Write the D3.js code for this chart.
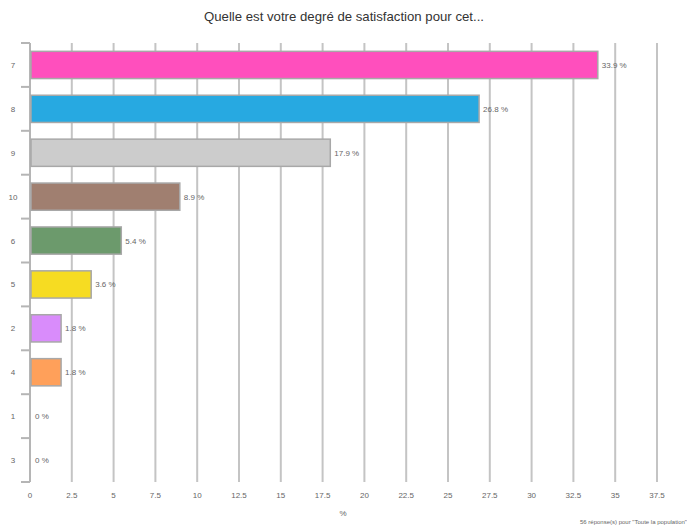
<!DOCTYPE html>
<html>
<head>
<meta charset="utf-8">
<script src="https://cdn.jsdelivr.net/npm/d3@7"></script>
<style>
  body { margin: 0; background: #fff; }
  svg text { font-family: "Liberation Sans", Arial, sans-serif; }
</style>
</head>
<body>
<div id="chart"></div>
<script>
// data
const categories = ["7", "8", "9", "10", "6", "5", "2", "4", "1", "3"];
const percents = [33.9, 26.8, 17.9, 8.9, 5.4, 3.6, 1.8, 1.8, 0, 0];
const colors = ["#ff4fbd", "#27a9e1", "#cccccc", "#a07f70", "#6c9a6c", "#f6dc22", "#d98cfb", "#ffa05a", "#cccccc", "#cccccc"];
const xTicks = [0, 2.5, 5, 7.5, 10, 12.5, 15, 17.5, 20, 22.5, 25, 27.5, 30, 32.5, 35, 37.5];

const width = 687, height = 529;
const margin = {top: 43, left: 30, right: 30, bottom: 47};

const svg = d3.select("#chart").append("svg")
    .attr("width", width)
    .attr("height", height);

svg.append("text")
    .attr("x", 344)
    .attr("y", 21)
    .attr("text-anchor", "middle")
    .attr("font-size", 13.2)
    .attr("fill", "#333")
    .text("Quelle est votre degré de satisfaction pour cet...");

const x = d3.scaleLinear()
    .domain([0, 37.5])
    .range([margin.left, 657]);

const y = d3.scaleBand()
    .domain(categories)
    .range([margin.top, height - margin.bottom])
    .paddingInner(0.38)
    .paddingOuter(0.19);

// vertical grid lines
svg.append("g")
    .selectAll("line")
    .data(xTicks.slice(1))
    .join("line")
    .attr("x1", d => x(d))
    .attr("x2", d => x(d))
    .attr("y1", margin.top)
    .attr("y2", height - margin.bottom)
    .attr("stroke", "#c4c4c4")
    .attr("stroke-width", 2);

// x tick labels
svg.append("g")
    .selectAll("text")
    .data(xTicks)
    .join("text")
    .attr("x", d => x(d))
    .attr("y", height - margin.bottom + 16)
    .attr("text-anchor", "middle")
    .attr("font-size", 8)
    .attr("fill", "#666")
    .text(d => d);

svg.append("text")
    .attr("x", 343)
    .attr("y", 516)
    .attr("text-anchor", "middle")
    .attr("font-size", 8)
    .attr("fill", "#666")
    .text("%");

svg.append("text")
    .attr("x", 687)
    .attr("y", 524)
    .attr("text-anchor", "end")
    .attr("font-size", 6)
    .attr("fill", "#666")
    .text("56 réponse(s) pour \"Toute la population\"");

// left axis with band boundary ticks
const bounds = categories.map(c => y(c) - (y.step() - y.bandwidth()) / 2);
bounds.push(height - margin.bottom);
bounds[0] = margin.top;

const axis = svg.append("g");
axis.append("line")
    .attr("x1", margin.left).attr("x2", margin.left)
    .attr("y1", margin.top).attr("y2", height - margin.bottom)
    .attr("stroke", "#b5b5b5").attr("stroke-width", 2);
axis.selectAll(".tk")
    .data(bounds)
    .join("line")
    .attr("class", "tk")
    .attr("x1", margin.left - 9).attr("x2", margin.left)
    .attr("y1", d => d).attr("y2", d => d)
    .attr("stroke", "#b5b5b5").attr("stroke-width", 2);
axis.selectAll(".cat")
    .data(categories)
    .join("text")
    .attr("class", "cat")
    .attr("x", 13)
    .attr("y", d => y(d) + y.bandwidth() / 2 + 3)
    .attr("text-anchor", "middle")
    .attr("font-size", 8)
    .attr("fill", "#666")
    .text(d => d);

// bars
const rows = categories.map((c, i) => ({cat: c, v: percents[i], col: colors[i]}));

svg.append("g")
    .selectAll("rect")
    .data(rows.filter(d => d.v > 0))
    .join("rect")
    .attr("x", x(0) + 1)
    .attr("y", d => y(d.cat))
    .attr("width", d => x(d.v) - x(0))
    .attr("height", y.bandwidth())
    .attr("fill", d => d.col)
    .attr("stroke", "#a8a8a8")
    .attr("stroke-width", 1.5);

svg.append("g")
    .selectAll("text")
    .data(rows)
    .join("text")
    .attr("x", d => x(d.v) + 5)
    .attr("y", d => y(d.cat) + y.bandwidth() / 2 + 3)
    .attr("font-size", 8)
    .attr("fill", "#666")
    .text(d => d.v + " %");
</script>
</body>
</html>
